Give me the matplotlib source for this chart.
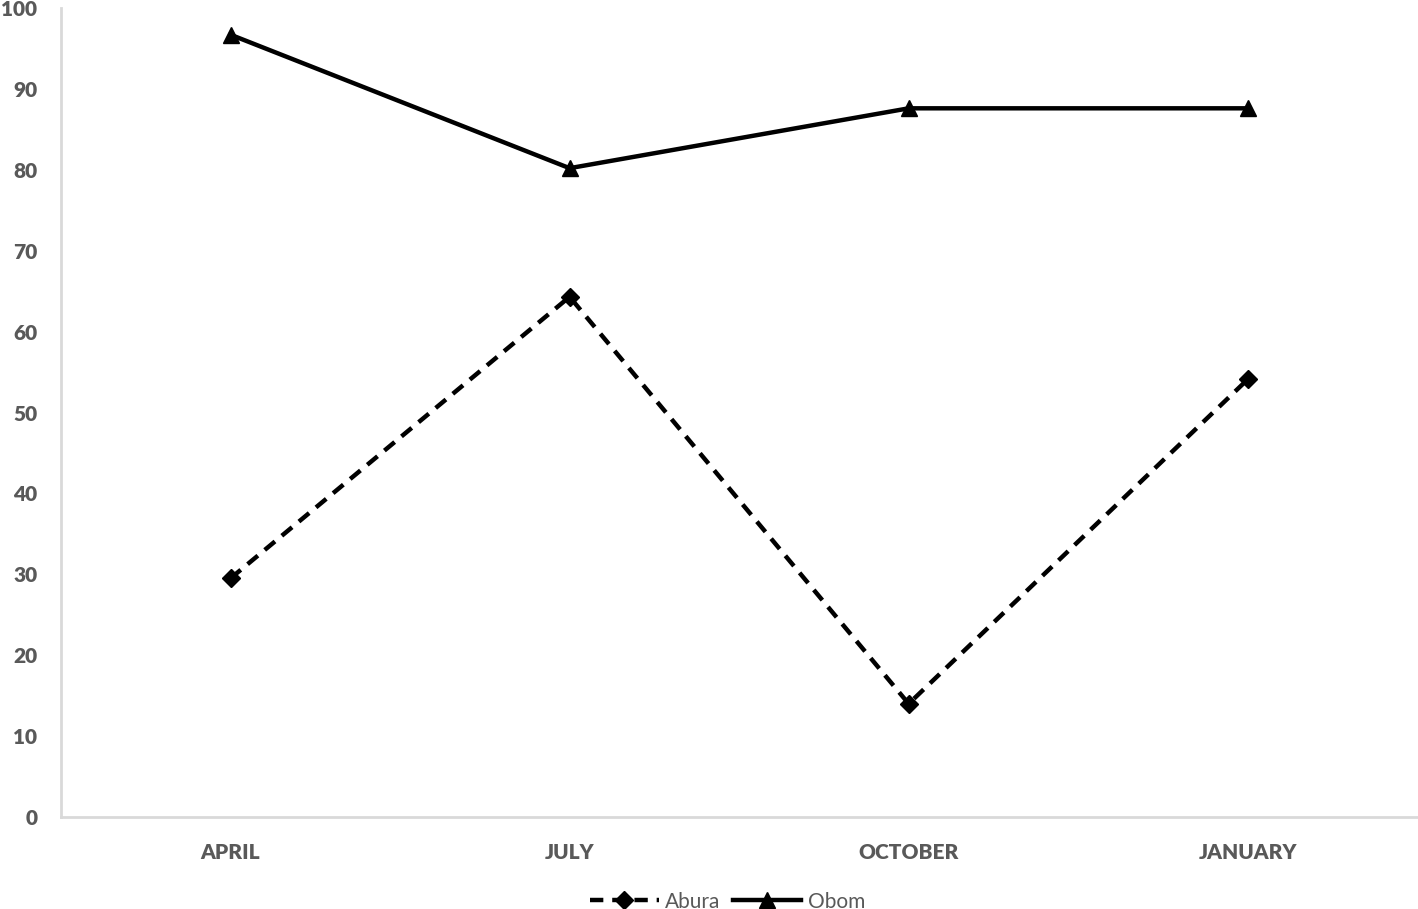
import matplotlib
matplotlib.use("Agg")
import matplotlib.pyplot as plt

# values
months = ["APRIL", "JULY", "OCTOBER", "JANUARY"]
abura = [29.5, 64.3, 14.0, 54.1]
obom = [96.7, 80.2, 87.6, 87.6]
y_ticks = [0, 10, 20, 30, 40, 50, 60, 70, 80, 90, 100]

plt.rcParams['font.family'] = ['Lato', 'DejaVu Sans']

fig = plt.figure(figsize=(14.18, 9.09), dpi=100)
ax = fig.add_axes([0.0430, 0.1012, 0.9565, 0.89])

x = range(len(months))
ax.plot(x, abura, color="black", linewidth=3.2, linestyle=(0, (3, 2)),
        marker="D", markersize=9, label="Abura")
ax.plot(x, obom, color="black", linewidth=3.2, linestyle="-",
        marker="^", markersize=12, label="Obom")

ax.set_xlim(-0.5, 3.5)
ax.set_ylim(0, 100)
ax.set_yticks(y_ticks)
ax.set_xticks(list(x))
ax.set_xticklabels(months)

for s in ["top", "right"]:
    ax.spines[s].set_visible(False)
for s in ["left", "bottom"]:
    ax.spines[s].set_color("#d9d9d9")
    ax.spines[s].set_linewidth(2)

ax.tick_params(length=0, labelsize=15, colors="#595959")
ax.tick_params(axis="y", pad=17)
ax.tick_params(axis="x", pad=19)
for lbl in ax.get_xticklabels() + ax.get_yticklabels():
    lbl.set_fontweight("heavy")

leg = fig.legend(loc="center", bbox_to_anchor=(0.513, 0.008), ncol=2,
                 frameon=False, fontsize=15, handlelength=3.3,
                 columnspacing=0.6, handletextpad=0.3, borderpad=0)
for t in leg.get_texts():
    t.set_color("#595959")

fig.savefig("out.png", dpi=100)
